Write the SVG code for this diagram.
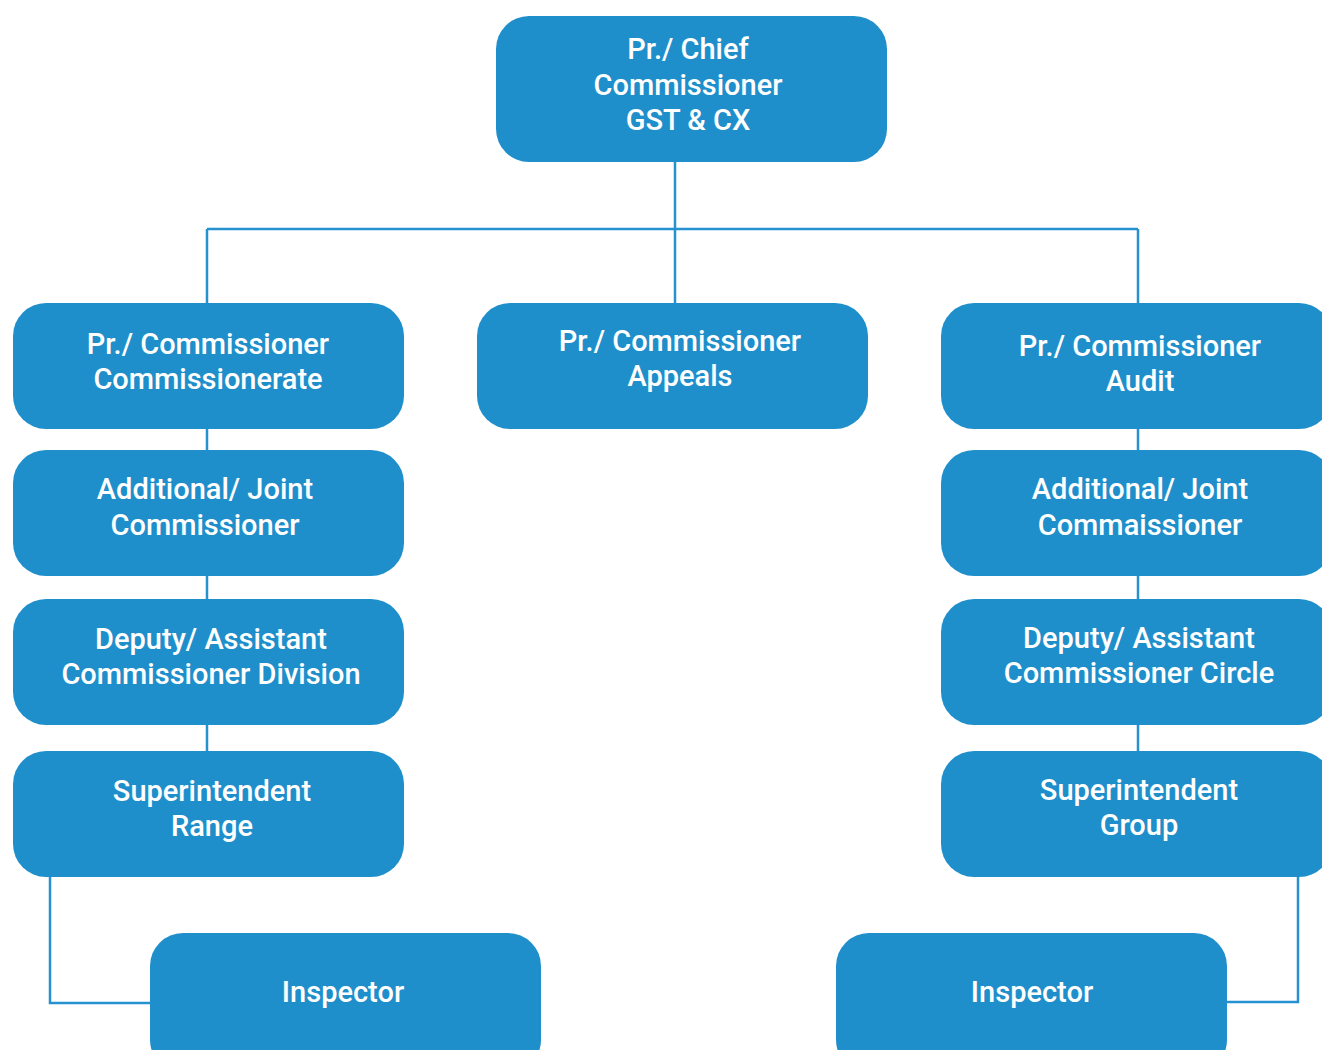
<svg xmlns="http://www.w3.org/2000/svg" width="1322" height="1050" viewBox="0 0 1322 1050">
<style>
.box{fill:#1f8fcb}
.t{fill:#ffffff;font-family:Roboto,"Liberation Sans",sans-serif;font-weight:500;font-size:29px;text-anchor:middle}
.c{stroke:#2591cf;stroke-width:2.5;fill:none}
</style>
<rect width="1322" height="1050" fill="#ffffff"/>
<g id="connectors">
<path class="c" d="M675 162V303M207 229H1138M207 229V303M1138 229V303"/>
<path class="c" d="M207 429V450M207 576V599M207 725V751"/>
<path class="c" d="M1138 429V450M1138 576V599M1138 725V751"/>
<path class="c" d="M50 877V1003H150"/>
<path class="c" d="M1298 877V1002H1227"/>
</g>
<g id="chief"><rect class="box" x="496" y="16" width="391" height="146" rx="33"/>
<text class="t" x="688" y="59">Pr./ Chief</text><text class="t" x="688" y="95">Commissioner</text><text class="t" x="688" y="130">GST &amp; CX</text></g>
<g id="commissionerate"><rect class="box" x="13" y="303" width="391" height="126" rx="33"/>
<text class="t" x="208" y="354">Pr./ Commissioner</text><text class="t" x="208" y="389">Commissionerate</text></g>
<g id="appeals"><rect class="box" x="477" y="303" width="391" height="126" rx="33"/>
<text class="t" x="680" y="351">Pr./ Commissioner</text><text class="t" x="680" y="386">Appeals</text></g>
<g id="audit"><rect class="box" x="941" y="303" width="391" height="126" rx="33"/>
<text class="t" x="1140" y="356">Pr./ Commissioner</text><text class="t" x="1140" y="391">Audit</text></g>
<g id="addl-left"><rect class="box" x="13" y="450" width="391" height="126" rx="33"/>
<text class="t" x="205" y="499">Additional/ Joint</text><text class="t" x="205" y="535">Commissioner</text></g>
<g id="addl-right"><rect class="box" x="941" y="450" width="391" height="126" rx="33"/>
<text class="t" x="1140" y="499">Additional/ Joint</text><text class="t" x="1140" y="535">Commaissioner</text></g>
<g id="deputy-left"><rect class="box" x="13" y="599" width="391" height="126" rx="33"/>
<text class="t" x="211" y="649">Deputy/ Assistant</text><text class="t" x="211" y="684">Commissioner Division</text></g>
<g id="deputy-right"><rect class="box" x="941" y="599" width="391" height="126" rx="33"/>
<text class="t" x="1139" y="648">Deputy/ Assistant</text><text class="t" x="1139" y="683">Commissioner Circle</text></g>
<g id="supt-left"><rect class="box" x="13" y="751" width="391" height="126" rx="33"/>
<text class="t" x="212" y="801">Superintendent</text><text class="t" x="212" y="836">Range</text></g>
<g id="supt-right"><rect class="box" x="941" y="751" width="391" height="126" rx="33"/>
<text class="t" x="1139" y="800">Superintendent</text><text class="t" x="1139" y="835">Group</text></g>
<g id="inspector-left"><rect class="box" x="150" y="933" width="391" height="140" rx="33"/>
<text class="t" x="343" y="1002">Inspector</text></g>
<g id="inspector-right"><rect class="box" x="836" y="933" width="391" height="140" rx="33"/>
<text class="t" x="1032" y="1002">Inspector</text></g>
</svg>
